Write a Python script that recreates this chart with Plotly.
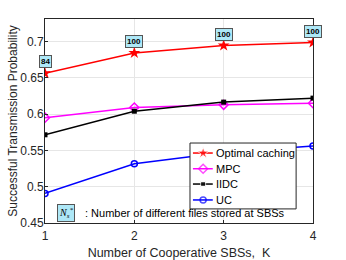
import plotly.graph_objects as go

K = [1, 2, 3, 4]
optimal = [0.6563, 0.6843, 0.6945, 0.6986]
mpc = [0.595, 0.609, 0.6128, 0.615]
iidc = [0.5715, 0.604, 0.6165, 0.622]
uc = [0.4908, 0.5316, 0.547, 0.5559]
ns_labels = ["84", "100", "100", "100"]
series_names = ["Optimal caching", "MPC", "IIDC", "UC"]

font = "Liberation Sans, Arial, sans-serif"
styles = [
    dict(line=dict(color="#ff0000", width=1.5), marker=dict(symbol="star", size=9, color="#ff0000")),
    dict(line=dict(color="#ff00ff", width=1.5), marker=dict(symbol="diamond-open", size=7, color="#ff00ff", line=dict(width=1.5))),
    dict(line=dict(color="#000000", width=1.5), marker=dict(symbol="square", size=5, color="#000000")),
    dict(line=dict(color="#0000ff", width=1.5), marker=dict(symbol="circle-open", size=6, color="#0000ff", line=dict(width=1.5))),
]

fig = go.Figure()
for name, vals, st in zip(series_names, [optimal, mpc, iidc, uc], styles):
    fig.add_trace(go.Scatter(x=K, y=vals, name=name, mode="lines+markers",
                             showlegend=False, **st))

# compact MATLAB-style legend drawn on an overlay axis spanning the plot area (0..1)
lx0, lx1, ly0, ly1 = 0.541, 0.937, 0.069, 0.392
row_y = [0.343, 0.266, 0.191, 0.113]
fig.add_trace(go.Scatter(x=[lx0, lx1, lx1, lx0, lx0], y=[ly0, ly0, ly1, ly1, ly0],
                         xaxis="x2", yaxis="y2", mode="lines", fill="toself",
                         fillcolor="white", line=dict(color="#262626", width=1),
                         hoverinfo="skip", showlegend=False))
for name, yy, st in zip(series_names, row_y, styles):
    msize = st["marker"]["size"]
    fig.add_trace(go.Scatter(x=[0.552, 0.590, 0.626], y=[yy, yy, yy], xaxis="x2", yaxis="y2",
                             mode="lines+markers", line=st["line"],
                             marker=dict(st["marker"], size=[0, msize, 0]),
                             hoverinfo="skip", showlegend=False))
    fig.add_annotation(xref="x2", yref="y2", x=0.630, y=yy, xanchor="left", yanchor="middle",
                       text=name, showarrow=False,
                       font=dict(size=11, color="#000000", family=font))

for k, v, t in zip(K, optimal, ns_labels):
    fig.add_annotation(x=k, y=v, text="<b>" + t + "</b>", showarrow=False, yshift=5,
                       yanchor="bottom",
                       font=dict(size=8, color="#000000", family=font),
                       bgcolor="#aee8f7", bordercolor="#555555", borderwidth=1, borderpad=1)

fig.add_annotation(xref="paper", yref="paper", x=0.045, y=0.005, xanchor="left", yanchor="bottom",
                   text="<i>N<sub>s</sub><sup>*</sup></i>", showarrow=False,
                   font=dict(size=10, color="#000000", family="Liberation Serif, serif"),
                   bgcolor="#aee8f7", bordercolor="#555555", borderwidth=1, borderpad=1)
fig.add_annotation(xref="paper", yref="paper", x=0.14, y=0.012, xanchor="left", yanchor="bottom",
                   text=": Number of different files stored at SBSs", showarrow=False,
                   font=dict(size=11, color="#000000", family=font))

axis_common = dict(showline=True, linecolor="#262626", linewidth=1, mirror=True,
                   showgrid=True, gridcolor="#e6e6e6", ticks="inside", ticklen=3,
                   tickcolor="#262626", tickfont=dict(size=12, color="#262626", family=font),
                   zeroline=False, automargin=False)
fig.update_layout(
    width=346, height=260, margin=dict(l=45, r=33, t=19, b=37),
    paper_bgcolor="white", plot_bgcolor="white",
    font=dict(family=font, color="#262626"),
    xaxis=dict(range=[1, 4], tickvals=[1, 2, 3, 4], ticklabelstandoff=2,
               title=dict(text="Number of Cooperative SBSs,  K", font=dict(size=12.5), standoff=7),
               **axis_common),
    yaxis=dict(range=[0.45, 0.731], tickvals=[0.45, 0.5, 0.55, 0.6, 0.65, 0.7],
               ticktext=["0.45", "0.5", "0.55", "0.6", "0.65", "0.7"], ticklabelstandoff=-2,
               title=dict(text="Successful Transmission Probability", font=dict(size=12), standoff=0),
               **axis_common),
    xaxis2=dict(overlaying="x", anchor="y2", range=[0, 1], visible=False, automargin=False),
    yaxis2=dict(overlaying="y", anchor="x2", range=[0, 1], visible=False, automargin=False),
    showlegend=False,
)
fig.write_html("out.html", config={"displayModeBar": False},
               post_script="document.body.style.margin='0';document.body.style.padding='0';")
